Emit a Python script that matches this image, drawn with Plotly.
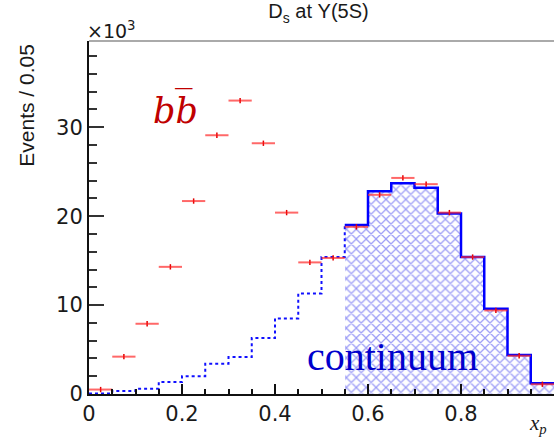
import plotly.graph_objects as go

# bin edges / centers (x_p), width 0.05
bin_centers = [0.025, 0.075, 0.125, 0.175, 0.225, 0.275, 0.325, 0.375, 0.425, 0.475,
               0.525, 0.575, 0.625, 0.675, 0.725, 0.775, 0.825, 0.875, 0.925, 0.975]
bin_half = [0.025] * 20

# b-bbar (red points), in units of 10^3 events
bb_values = [0.5, 4.2, 7.9, 14.3, 21.7, 29.1, 33.0, 28.2, 20.4, 14.8,
             15.3, 18.8, 22.4, 24.3, 23.6, 20.4, 15.4, 9.4, 4.3, 1.1]
bb_err = [0.3] * 20

# continuum histogram (blue), in units of 10^3 events
cont_values = [0.05, 0.35, 0.6, 1.35, 2.0, 3.4, 4.15, 6.3, 8.5, 11.3,
               15.4, 19.0, 22.8, 23.7, 23.2, 20.3, 15.4, 9.6, 4.4, 1.2]
hatch_start = 0.55

edges = [c - h for c, h in zip(bin_centers, bin_half)] + [bin_centers[-1] + bin_half[-1]]

x_ticks = [0, 0.2, 0.4, 0.6, 0.8]
x_ticktext = ["0", "0.2", "0.4", "0.6", "0.8"]
y_ticks = [0, 10, 20, 30]
y_ticktext = ["0", "10", "20", "30"]

fig = go.Figure()

# hatched region (continuum above x_p = 0.55)
hx = [c for c, e in zip(bin_centers, edges) if e >= hatch_start - 1e-9]
hy = [v for v, e in zip(cont_values, edges[:-1]) if e >= hatch_start - 1e-9]
fig.add_trace(go.Bar(
    x=hx, y=hy, width=0.05,
    marker=dict(color="rgba(0,0,0,0)", line=dict(width=0),
                pattern=dict(shape="x", fgcolor="rgba(40,40,235,0.9)", bgcolor="rgba(255,255,255,0)",
                             size=7, solidity=0.33)),
    showlegend=False, hoverinfo="skip"))

# dotted step line (low x_p)
idx_split = [i for i, e in enumerate(edges) if abs(e - hatch_start) < 1e-9][0]
sx_lo = edges[:idx_split + 1]
sy_lo = cont_values[:idx_split] + [cont_values[idx_split]]
fig.add_trace(go.Scatter(
    x=sx_lo, y=sy_lo, mode="lines", line=dict(shape="hv", color="#1010ff", width=2, dash="dot"),
    showlegend=False, hoverinfo="skip"))

# solid step line (high x_p)
sx_hi = edges[idx_split:]
sy_hi = cont_values[idx_split:] + [cont_values[-1]]
fig.add_trace(go.Scatter(
    x=sx_hi, y=sy_hi, mode="lines", line=dict(shape="hv", color="#0000ff", width=2.5),
    showlegend=False, hoverinfo="skip"))

# red points with error bars
fig.add_trace(go.Scatter(
    x=bin_centers, y=bb_values, mode="markers",
    marker=dict(size=1, color="red"),
    error_x=dict(type="data", array=bin_half, color="rgba(255,40,40,0.7)", thickness=2, width=0),
    error_y=dict(type="data", array=bb_err, color="#e00000", thickness=1.5, width=0),
    showlegend=False, hoverinfo="skip"))

font_axis = dict(family="DejaVu Sans, Liberation Sans, sans-serif", size=21, color="#1a1a1a")

fig.update_layout(
    width=554, height=441,
    margin=dict(l=89, r=0, t=41, b=47),
    paper_bgcolor="white", plot_bgcolor="white",
    bargap=0,
    title=dict(text="D<sub>s</sub> at Υ(5S)", x=0.575, xanchor="center", y=0.99, yanchor="top",
               font=dict(family="Liberation Sans, Arial, sans-serif", size=20, color="#1a1a1a")),
    xaxis=dict(range=[0, 1], showgrid=False, zeroline=False,
               showline=True, linecolor="#111", linewidth=2,
               ticks="inside", ticklen=10, tickwidth=1.5, tickcolor="#111",
               tickvals=x_ticks, ticktext=x_ticktext, tickfont=font_axis,
               minor=dict(ticks="inside", ticklen=5, tickwidth=1.5, tickcolor="#111", dtick=0.05, tick0=0)),
    yaxis=dict(range=[0, 39.7], showgrid=False, zeroline=False,
               showline=True, linecolor="#111", linewidth=2,
               ticks="inside", ticklen=15, tickwidth=1.5, tickcolor="#333",
               tickvals=y_ticks, ticktext=y_ticktext, tickfont=font_axis,
               minor=dict(ticks="inside", ticklen=8, tickwidth=1.5, tickcolor="#333", dtick=2, tick0=0)),
    shapes=[dict(type="line", xref="paper", yref="paper", x0=0, x1=1, y0=1, y1=1,
                 line=dict(color="#aaaaaa", width=2))],
    annotations=[
        dict(text="×10<sup>3</sup>", xref="paper", yref="paper", x=0, y=1, xanchor="left", yanchor="bottom",
             showarrow=False, font=dict(family="DejaVu Sans, Liberation Sans, sans-serif", size=19, color="#1a1a1a"),
             xshift=-4, yshift=-3),
        dict(text="Events / 0.05", xref="paper", yref="paper", x=-0.135, y=1, xanchor="center", yanchor="top",
             textangle=-90, showarrow=False, yshift=-1,
             font=dict(family="Liberation Sans, Arial, sans-serif", size=21, color="#1a1a1a")),
        dict(text="<i>x<sub>p</sub></i>", xref="paper", yref="paper", x=0.99, y=-0.085, xanchor="right", yanchor="middle",
             showarrow=False, font=dict(family="Liberation Serif, serif", size=21, color="#1a1a1a")),
        dict(text="<i>bb̅</i>", x=0.185, y=32.0, xref="x", yref="y", showarrow=False,
             font=dict(family="DejaVu Serif, Liberation Serif, serif", size=35, color="#c00000")),
        dict(text="continuum", x=0.653, y=4.2, xref="x", yref="y", showarrow=False,
             font=dict(family="Liberation Serif, Times New Roman, serif", size=40, color="#0000cc")),
    ],
)

fig.write_html("out.html")
